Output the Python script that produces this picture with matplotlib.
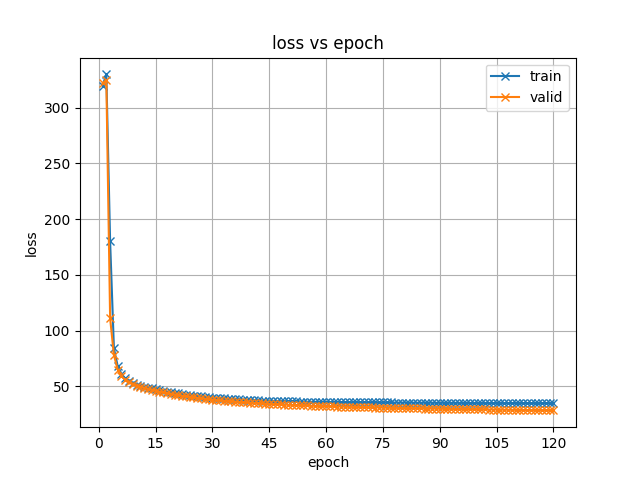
import numpy as np
import matplotlib
matplotlib.use('Agg')
import matplotlib.pyplot as plt

epochs = list(range(1, 121))

train_loss = [
    320.0, 330.0, 180.0, 84.0, 68.0, 61.0, 57.0, 55.0, 53.0, 51.5,
    50.5, 49.5, 48.8, 48.0, 47.2, 46.5, 45.8, 45.2, 44.6, 44.0,
    43.5, 43.0, 42.5, 42.0, 41.6, 41.2, 40.8, 40.4, 40.1, 39.8,
    39.5, 39.2, 39.0, 38.7, 38.5, 38.3, 38.1, 37.9, 37.7, 37.6,
    37.4, 37.3, 37.1, 37.0, 36.9, 36.8, 36.7, 36.6, 36.5, 36.4,
    36.3, 36.3, 36.2, 36.1, 36.1, 36.0, 36.0, 35.9, 35.9, 35.8,
    35.8, 35.8, 35.7, 35.7, 35.7, 35.6, 35.6, 35.6, 35.5, 35.5,
    35.5, 35.5, 35.4, 35.4, 35.4, 35.4, 35.4, 35.3, 35.3, 35.3,
    35.3, 35.3, 35.2, 35.2, 35.2, 35.2, 35.2, 35.2, 35.1, 35.1,
    35.1, 35.1, 35.1, 35.1, 35.1, 35.0, 35.0, 35.0, 35.0, 35.0,
    35.0, 35.0, 35.0, 34.9, 34.9, 34.9, 34.9, 34.9, 34.9, 34.9,
    34.9, 34.9, 34.8, 34.8, 34.8, 34.8, 34.8, 34.8, 34.8, 34.8,
]

valid_loss = [
    322.0, 325.0, 111.0, 78.0, 65.0, 59.0, 56.0, 54.0, 52.0, 50.5,
    49.5, 48.5, 47.5, 46.8, 46.0, 45.2, 44.5, 43.8, 43.0, 42.5,
    42.0, 41.4, 40.9, 40.5, 40.0, 39.6, 39.2, 38.8, 38.4, 38.0,
    37.7, 37.3, 37.0, 36.7, 36.5, 36.2, 35.9, 35.7, 35.4, 35.2,
    35.0, 34.8, 34.6, 34.4, 34.2, 34.0, 33.8, 33.7, 33.5, 33.4,
    33.2, 33.1, 32.9, 32.8, 32.7, 32.5, 32.4, 32.3, 32.2, 32.1,
    32.0, 31.9, 31.8, 31.7, 31.6, 31.5, 31.4, 31.3, 31.3, 31.2,
    31.1, 31.0, 30.9, 30.9, 30.8, 30.7, 30.6, 30.6, 30.5, 30.4,
    30.4, 30.3, 30.2, 30.2, 30.1, 30.0, 30.0, 29.9, 29.9, 29.8,
    29.7, 29.7, 29.6, 29.6, 29.5, 29.5, 29.4, 29.4, 29.3, 29.3,
    29.2, 29.2, 29.1, 29.1, 29.0, 29.0, 28.9, 28.9, 28.8, 28.8,
    28.7, 28.7, 28.6, 28.6, 28.5, 28.5, 28.4, 28.4, 28.3, 28.3,
]

fig, ax = plt.subplots(figsize=(6.4, 4.8), dpi=100)
ax.plot(epochs, train_loss, marker='x', label='train')
ax.plot(epochs, valid_loss, marker='x', label='valid')
ax.set_xticks(np.arange(0, 121, 15))
ax.set_title('loss vs epoch')
ax.set_xlabel('epoch')
ax.set_ylabel('loss')
ax.grid(True)
ax.legend(loc='upper right')
plt.savefig('out.png')
